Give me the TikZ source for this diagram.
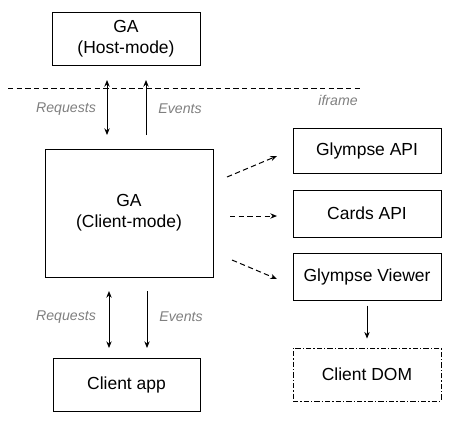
\documentclass[tikz,border=0pt]{standalone}
\usepackage{fontspec}
\setmainfont{Liberation Sans}
\usetikzlibrary{arrows.meta}
\definecolor{lbl}{HTML}{7F7F7F}
\tikzset{
  box/.style={draw, line width=0.75pt, fill=white, inner sep=0pt, align=center, font=\fontsize{13.1}{15.5}\selectfont},
  lab/.style={text=lbl, font=\fontsize{10.6}{12}\selectfont\itshape},
  arr/.style={line width=0.75pt, -{Stealth[length=5pt,width=4pt]}},
  darr/.style={line width=0.75pt, {Stealth[length=5pt,width=4pt]}-{Stealth[length=5pt,width=4pt]}},
  dasharr/.style={arr, dash pattern=on 4pt off 2.5pt},
}
\begin{document}
\begin{tikzpicture}[x=0.75pt, y=-0.75pt]
\useasboundingbox (0,0) rectangle (456,422);
\node[box, minimum width=148*0.75pt, minimum height=53*0.75pt] (host) at (126,38.5) {GA\\(Host-mode)};
\node[box, minimum width=168*0.75pt, minimum height=128*0.75pt] (client) at (129,213) {GA\\(Client-mode)};
\node[box, minimum width=147*0.75pt, minimum height=53*0.75pt] (app) at (126.5,384.5) {Client app};
\node[box, minimum width=148*0.75pt, minimum height=45*0.75pt] (gapi) at (367,150.5) {Glympse API};
\node[box, minimum width=148*0.75pt, minimum height=47*0.75pt] (capi) at (367,213.5) {Cards API};
\node[box, minimum width=148*0.75pt, minimum height=47*0.75pt] (view) at (367,276.5) {Glympse Viewer};
\node[box, line width=0.6pt, dash pattern=on 4pt off 1.6pt on 0.8pt off 1.6pt, minimum width=148*0.75pt, minimum height=53*0.75pt] (dom) at (367,374.5) {Client DOM};

\coordinate (ld) at (8,88);
\coordinate (rd) at (363,88);
\draw[line width=0.75pt, dash pattern=on 4pt off 2.5pt] (ld) -- (rd);

\coordinate (rqt) at (107,80);
\coordinate (rqb) at (107,135);
\coordinate (evt) at (146,80);
\coordinate (evb) at (146,135);
\draw[darr] (rqt) -- (rqb);
\draw[arr] (evb) -- (evt);

\coordinate (rq2t) at (109,291);
\coordinate (rq2b) at (109,348);
\coordinate (ev2t) at (147,291);
\coordinate (ev2b) at (147,348);
\draw[darr] (rq2t) -- (rq2b);
\draw[arr] (ev2t) -- (ev2b);

\node[lab] (l1) at (66,109) {Requests};
\node[lab] (l2) at (180,109) {Events};
\node[lab] (l3) at (338,100) {iframe};
\node[lab] (l4) at (66,317) {Requests};
\node[lab] (l5) at (181,317) {Events};

\coordinate (d1s) at (227,177);
\coordinate (d1e) at (277,156);
\coordinate (d2s) at (230,216);
\coordinate (d2e) at (277,216);
\coordinate (d3s) at (232,260);
\coordinate (d3e) at (277,279);
\draw[dasharr] (d1s) -- (d1e);
\draw[dasharr] (d2s) -- (d2e);
\draw[dasharr] (d3s) -- (d3e);

\draw[arr] ([yshift=-5*0.75pt]view.south) -- ([yshift=9*0.75pt]dom.north);
\end{tikzpicture}
\end{document}
